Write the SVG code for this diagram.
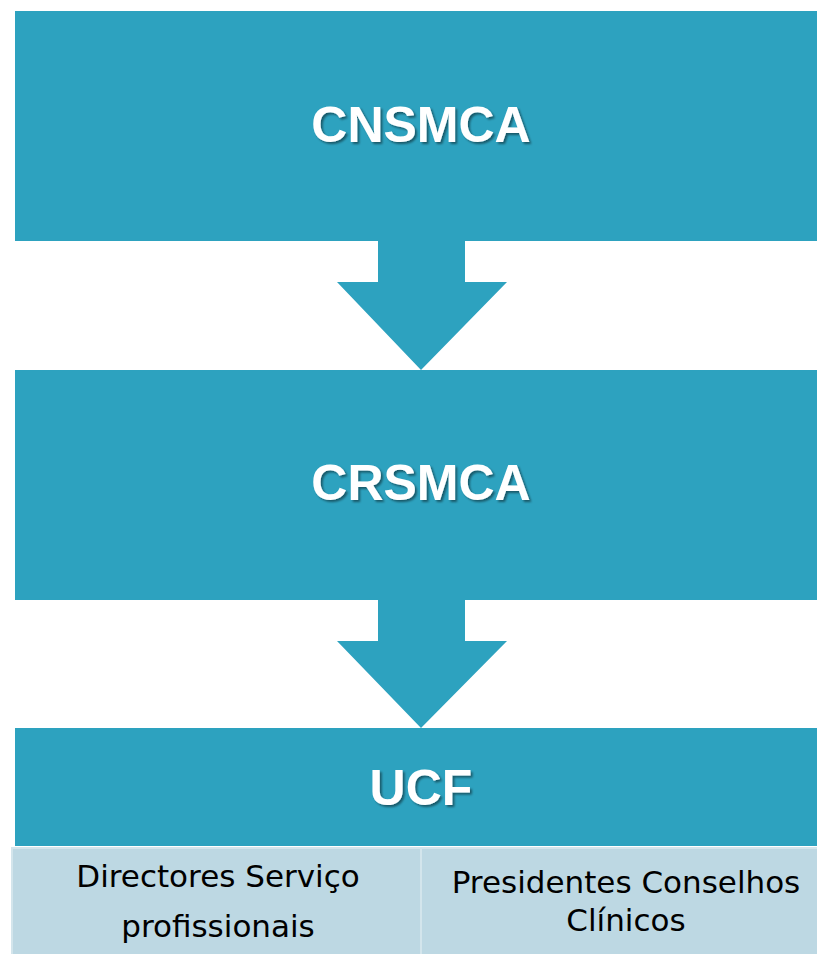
<svg xmlns="http://www.w3.org/2000/svg" width="817" height="954" viewBox="0 0 817 954">
<defs>
<style>
.box{fill:#2DA2BF}
.arrow{fill:#2DA2BF}
.cell{fill:#BDD8E3;stroke:#D3E5EC;stroke-width:2}
.title{font-family:"Liberation Sans",Arial,sans-serif;font-weight:bold;font-size:50px;fill:#fff;text-anchor:middle}
.sub{font-family:"DejaVu Sans","Liberation Sans",sans-serif;font-size:31px;fill:#000;text-anchor:middle}
</style>
<filter id="sh" x="-10%" y="-20%" width="130%" height="150%">
<feDropShadow dx="2" dy="2" stdDeviation="1.2" flood-color="#000" flood-opacity="0.45"/>
</filter>
</defs>
<rect width="817" height="954" fill="#fff"/>
<g id="connectors">
<polygon class="arrow" points="378,241 465,241 465,282 507,282 421,370 337,282 378,282"/>
<polygon class="arrow" points="378,600 465,600 465,641 507,641 421,728 337,641 378,641"/>
</g>
<g id="cnsmca">
<rect class="box" x="15" y="11" width="802" height="230"/>
<text class="title" x="421" y="142" filter="url(#sh)">CNSMCA</text>
</g>
<g id="crsmca">
<rect class="box" x="15" y="370" width="802" height="230"/>
<text class="title" x="421" y="500" filter="url(#sh)">CRSMCA</text>
</g>
<g id="ucf">
<rect class="box" x="15" y="728" width="802" height="118"/>
<text class="title" x="421" y="805" filter="url(#sh)">UCF</text>
</g>
<g id="directores">
<rect class="cell" x="12" y="848" width="409" height="108"/>
<text class="sub" x="218" y="887">Directores Serviço</text>
<text class="sub" x="218" y="937">profissionais</text>
</g>
<g id="presidentes">
<rect class="cell" x="421" y="848" width="398" height="108"/>
<text class="sub" x="626" y="893">Presidentes Conselhos</text>
<text class="sub" x="626" y="931">Clínicos</text>
</g>
</svg>
